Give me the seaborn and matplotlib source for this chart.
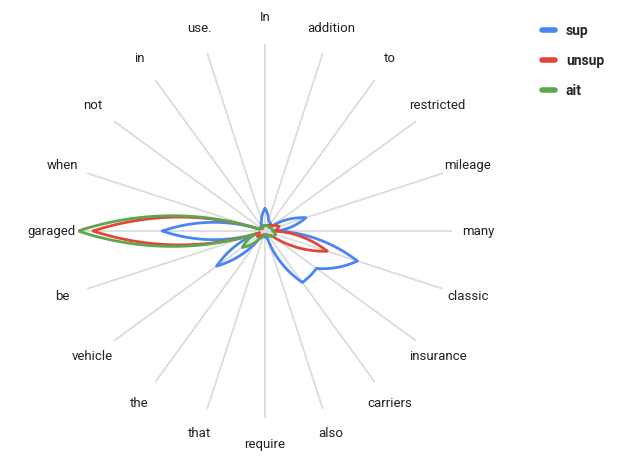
import numpy as np
import pandas as pd
import matplotlib
matplotlib.use("Agg")
import matplotlib.pyplot as plt
import seaborn as sns
from matplotlib.lines import Line2D

# words on the spokes, clockwise from the top
words = ["In", "addition", "to", "restricted", "mileage", "many", "classic",
         "insurance", "carriers", "also", "require", "that", "the", "vehicle",
         "be", "garaged", "when", "not", "in", "use."]

sup = [0.12, 0.06, 0.05, 0.04, 0.23, 0.06, 0.52, 0.34, 0.34, 0.04,
       0.03, 0.03, 0.04, 0.32, 0.04, 0.55, 0.04, 0.03, 0.03, 0.06]
unsup = [0.03, 0.03, 0.04, 0.05, 0.08, 0.05, 0.35, 0.04, 0.03, 0.02,
         0.02, 0.02, 0.03, 0.05, 0.03, 0.92, 0.03, 0.02, 0.02, 0.03]
ait = [0.03, 0.03, 0.03, 0.03, 0.04, 0.04, 0.06, 0.05, 0.03, 0.02,
       0.02, 0.03, 0.05, 0.15, 0.05, 1.00, 0.04, 0.02, 0.02, 0.03]

series_names = ["sup", "unsup", "ait"]
colors = {"sup": "#4a86f0", "unsup": "#e0463a", "ait": "#5ea64c"}

sns.set_style("white")
plt.rcParams["font.family"] = ["Roboto", "DejaVu Sans"]

n = len(words)
theta = np.linspace(0, 2 * np.pi, n, endpoint=False)

# long table, each series closed back on its first point
rows = []
for name, vals in zip(series_names, [sup, unsup, ait]):
    for i in range(n + 1):
        rows.append({"theta": theta[i % n] if i < n else 2 * np.pi,
                     "r": vals[i % n], "series": name, "order": i})
df = pd.DataFrame(rows)

fig = plt.figure(figsize=(6.42, 4.65), dpi=100)
ax = fig.add_axes([78 / 642, 47 / 465, 374 / 642, 374 / 465], projection="polar")
ax.set_theta_zero_location("N")
ax.set_theta_direction(-1)

sns.lineplot(data=df, x="theta", y="r", hue="series", palette=colors,
             sort=False, estimator=None, units="series", lw=2, ax=ax, legend=False)
for ln in ax.lines:
    ln.get_path()._interpolation_steps = 40

ax.set_ylim(0, 1)
ax.set_yticks([])
ax.set_xticks(theta)
ax.set_xticklabels([])
ax.xaxis.grid(True, color="#dcdcdc", lw=1.3)
ax.spines["polar"].set_visible(False)
ax.set_xlabel("")
ax.set_ylabel("")

for t, w in zip(theta, words):
    ax.text(t, 1.14, w, ha="center", va="center", fontsize=9.5,
            color="#222222", clip_on=False)

handles = [Line2D([0], [0], color=colors[s], lw=4, solid_capstyle="round")
           for s in series_names]
leg = fig.legend(handles, series_names, loc="upper left",
                 bbox_to_anchor=(0.825, 0.975), frameon=False,
                 handlelength=0.9, handletextpad=0.8, labelspacing=1.15,
                 prop={"weight": "bold", "size": 10})

fig.savefig("out.png", dpi=100)
